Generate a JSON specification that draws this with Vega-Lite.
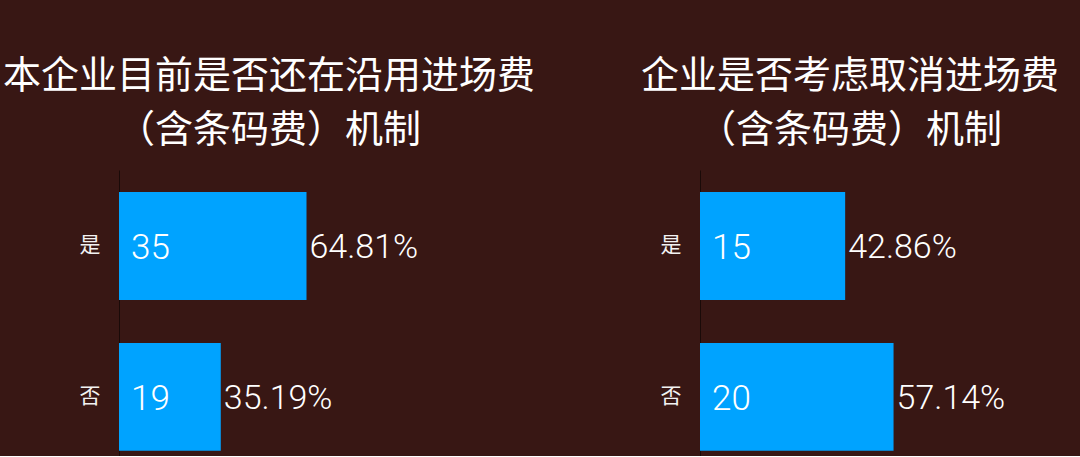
{
  "$schema": "https://vega.github.io/schema/vega-lite/v6.json",
  "background": "#381714",
  "padding": {"left": 2, "top": 58, "right": 22, "bottom": 0},
  "spacing": 104,
  "datasets": {
    "a": [
      {"cat": "是", "n": 35, "pct": "64.81%"},
      {"cat": "否", "n": 19, "pct": "35.19%"}
    ],
    "b": [
      {"cat": "是", "n": 15, "pct": "42.86%"},
      {"cat": "否", "n": 20, "pct": "57.14%"}
    ]
  },
  "config": {
    "view": {"stroke": null},
    "title": {"font": "Noto Sans CJK SC", "fontSize": 38, "fontWeight": "normal", "color": "#ffffff", "lineHeight": 54, "offset": 20, "anchor": "middle"},
    "axisY": {"domain": true, "domainColor": "#1a0a08", "domainWidth": 1, "ticks": false, "grid": false, "labelFont": "Noto Sans CJK SC", "labelFontSize": 21, "labelColor": "#f2f2f2", "labelPadding": 19, "title": null}
  },
  "hconcat": [
    {
      "data": {"name": "a"},
      "width": 300,
      "height": 286,
      "title": {"text": ["本企业目前是否还在沿用进场费", "（含条码费）机制"]},
      "encoding": {
        "y": {"field": "cat", "type": "nominal", "sort": ["是", "否"], "scale": {"paddingInner": 0.285, "paddingOuter": 0.09, "align": 0.81}, "axis": {"title": null}}
      },
      "layer": [
        {"mark": {"type": "bar", "color": "#00a3ff"},
         "encoding": {"x": {"field": "n", "type": "quantitative", "scale": {"domain": [0, 56], "nice": false}, "axis": null}}},
        {"mark": {"type": "text", "align": "left", "baseline": "middle", "dx": 12, "dy": 2, "font": "Roboto", "fontWeight": 300, "fontSize": 35, "color": "#ffffff"},
         "encoding": {"x": {"datum": 0, "type": "quantitative"}, "text": {"field": "n"}}},
        {"mark": {"type": "text", "align": "left", "baseline": "middle", "dx": 3, "dy": 2, "font": "Roboto", "fontWeight": 300, "fontSize": 34, "color": "#ffffff"},
         "encoding": {"x": {"field": "n", "type": "quantitative"}, "text": {"field": "pct"}}}
      ]
    },
    {
      "data": {"name": "b"},
      "width": 300,
      "height": 286,
      "title": {"text": ["企业是否考虑取消进场费", "（含条码费）机制"]},
      "encoding": {
        "y": {"field": "cat", "type": "nominal", "sort": ["是", "否"], "scale": {"paddingInner": 0.285, "paddingOuter": 0.09, "align": 0.81}, "axis": {"title": null}}
      },
      "layer": [
        {"mark": {"type": "bar", "color": "#00a3ff"},
         "encoding": {"x": {"field": "n", "type": "quantitative", "scale": {"domain": [0, 31], "nice": false}, "axis": null}}},
        {"mark": {"type": "text", "align": "left", "baseline": "middle", "dx": 12, "dy": 2, "font": "Roboto", "fontWeight": 300, "fontSize": 35, "color": "#ffffff"},
         "encoding": {"x": {"datum": 0, "type": "quantitative"}, "text": {"field": "n"}}},
        {"mark": {"type": "text", "align": "left", "baseline": "middle", "dx": 3, "dy": 2, "font": "Roboto", "fontWeight": 300, "fontSize": 34, "color": "#ffffff"},
         "encoding": {"x": {"field": "n", "type": "quantitative"}, "text": {"field": "pct"}}}
      ]
    }
  ]
}
